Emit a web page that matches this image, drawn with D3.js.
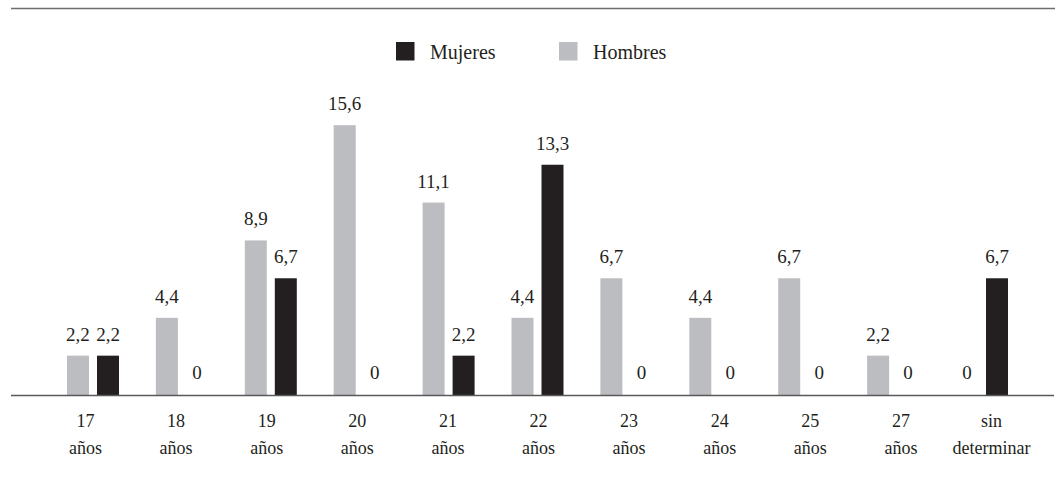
<!DOCTYPE html>
<html>
<head>
<meta charset="utf-8">
<script src="https://cdn.jsdelivr.net/npm/d3@7"></script>
<style>
  html, body { margin: 0; padding: 0; background: #ffffff; }
  svg { display: block; }
  svg text { font-family: "Liberation Serif", "DejaVu Serif", serif !important; fill: #231f20; }
</style>
</head>
<body>
<svg id="chart" width="1055" height="500" font-family="Liberation Serif, serif"></svg>
<script>
// Age groups (two-line labels) and percentages per sex
const categories = ["17 años", "18 años", "19 años", "20 años", "21 años", "22 años",
                    "23 años", "24 años", "25 años", "27 años", "sin determinar"];
const series = ["Hombres", "Mujeres"];
const hombres = [2.2, 4.4, 8.9, 15.6, 11.1, 4.4, 6.7, 4.4, 6.7, 2.2, 0];
const mujeres = [2.2, 0, 6.7, 0, 2.2, 13.3, 0, 0, 0, 0, 6.7];
const legendOrder = ["Mujeres", "Hombres"];

const colors = { Hombres: "#bcbdc0", Mujeres: "#231f20" };
const FONT = "Liberation Serif, serif";

const rows = categories.map((c, i) => ({ cat: c, Hombres: hombres[i], Mujeres: mujeres[i] }));

const svg = d3.select("#chart");
const W = 1055;
const baseY = 395.5;

// group band per age category
const x0 = d3.scaleBand().domain(categories).range([45, 45 + 88.9 * categories.length]);
// bar slots inside each group
const x1 = d3.scaleBand().domain(series).range([22, 74]).paddingInner(0.2667);
// category label positions
const xLab = d3.scalePoint().domain(categories).range([85, 991]);

const y = d3.scaleLinear().domain([0, 16]).range([393.5, 393.5 - 17.2 * 16]);

const fmt = v => d3.format(".1f")(v).replace(".", ",").replace(/^0,0$/, "0");

// top rule
svg.append("line")
  .attr("x1", 11).attr("x2", W).attr("y1", 8.5).attr("y2", 8.5)
  .attr("stroke", "#6d6e70").attr("stroke-width", 1.6);

// legend
const legend = svg.append("g");
const legendX = { Mujeres: 396, Hombres: 559 };
legendOrder.forEach(s => {
  legend.append("rect")
    .attr("x", legendX[s]).attr("y", 42).attr("width", 18.5).attr("height", 18.5)
    .attr("fill", colors[s]);
  legend.append("text")
    .attr("x", legendX[s] + 34).attr("y", 59)
    .attr("font-family", FONT)
    .attr("font-size", 20)
    .text(s);
});

// bars
const groups = svg.append("g").selectAll("g")
  .data(rows).join("g")
  .attr("transform", d => `translate(${x0(d.cat)},0)`);

groups.selectAll("rect")
  .data(d => series.map(s => ({ s, v: d[s] })))
  .join("rect")
  .attr("x", d => x1(d.s))
  .attr("width", x1.bandwidth())
  .attr("y", d => y(d.v))
  .attr("height", d => d.v > 0 ? baseY - y(d.v) : 0)
  .attr("fill", d => colors[d.s]);

// value labels
groups.selectAll("text.val")
  .data(d => series.map(s => ({ s, v: d[s] })))
  .join("text")
  .attr("class", "val")
  .attr("x", d => x1(d.s) + x1.bandwidth() / 2)
  .attr("y", d => y(d.v) - 15)
  .attr("text-anchor", "middle")
  .attr("font-family", FONT)
  .attr("font-size", 19)
  .text(d => fmt(d.v));

// baseline
svg.append("line")
  .attr("x1", 11).attr("x2", 1054).attr("y1", baseY).attr("y2", baseY)
  .attr("stroke", "#58595b").attr("stroke-width", 1.6);

// category axis labels (two lines)
const axis = d3.axisBottom(xLab).tickSize(0).tickPadding(0).tickFormat("");
const axG = svg.append("g").attr("transform", `translate(0,${baseY})`).call(axis);
axG.attr("font-family", FONT);
axG.select(".domain").remove();
axG.selectAll(".tick").each(function(d) {
  const parts = d.split(" ");
  const t = d3.select(this).append("text")
    .attr("text-anchor", "middle")
    .attr("font-family", FONT)
    .attr("font-size", 18)
    .style("fill", "#231f20");
  t.append("tspan").attr("x", 0).attr("y", 31.5).text(parts[0]);
  t.append("tspan").attr("x", 0).attr("y", 58.5).text(parts.slice(1).join(" "));
});
</script>
</body>
</html>
